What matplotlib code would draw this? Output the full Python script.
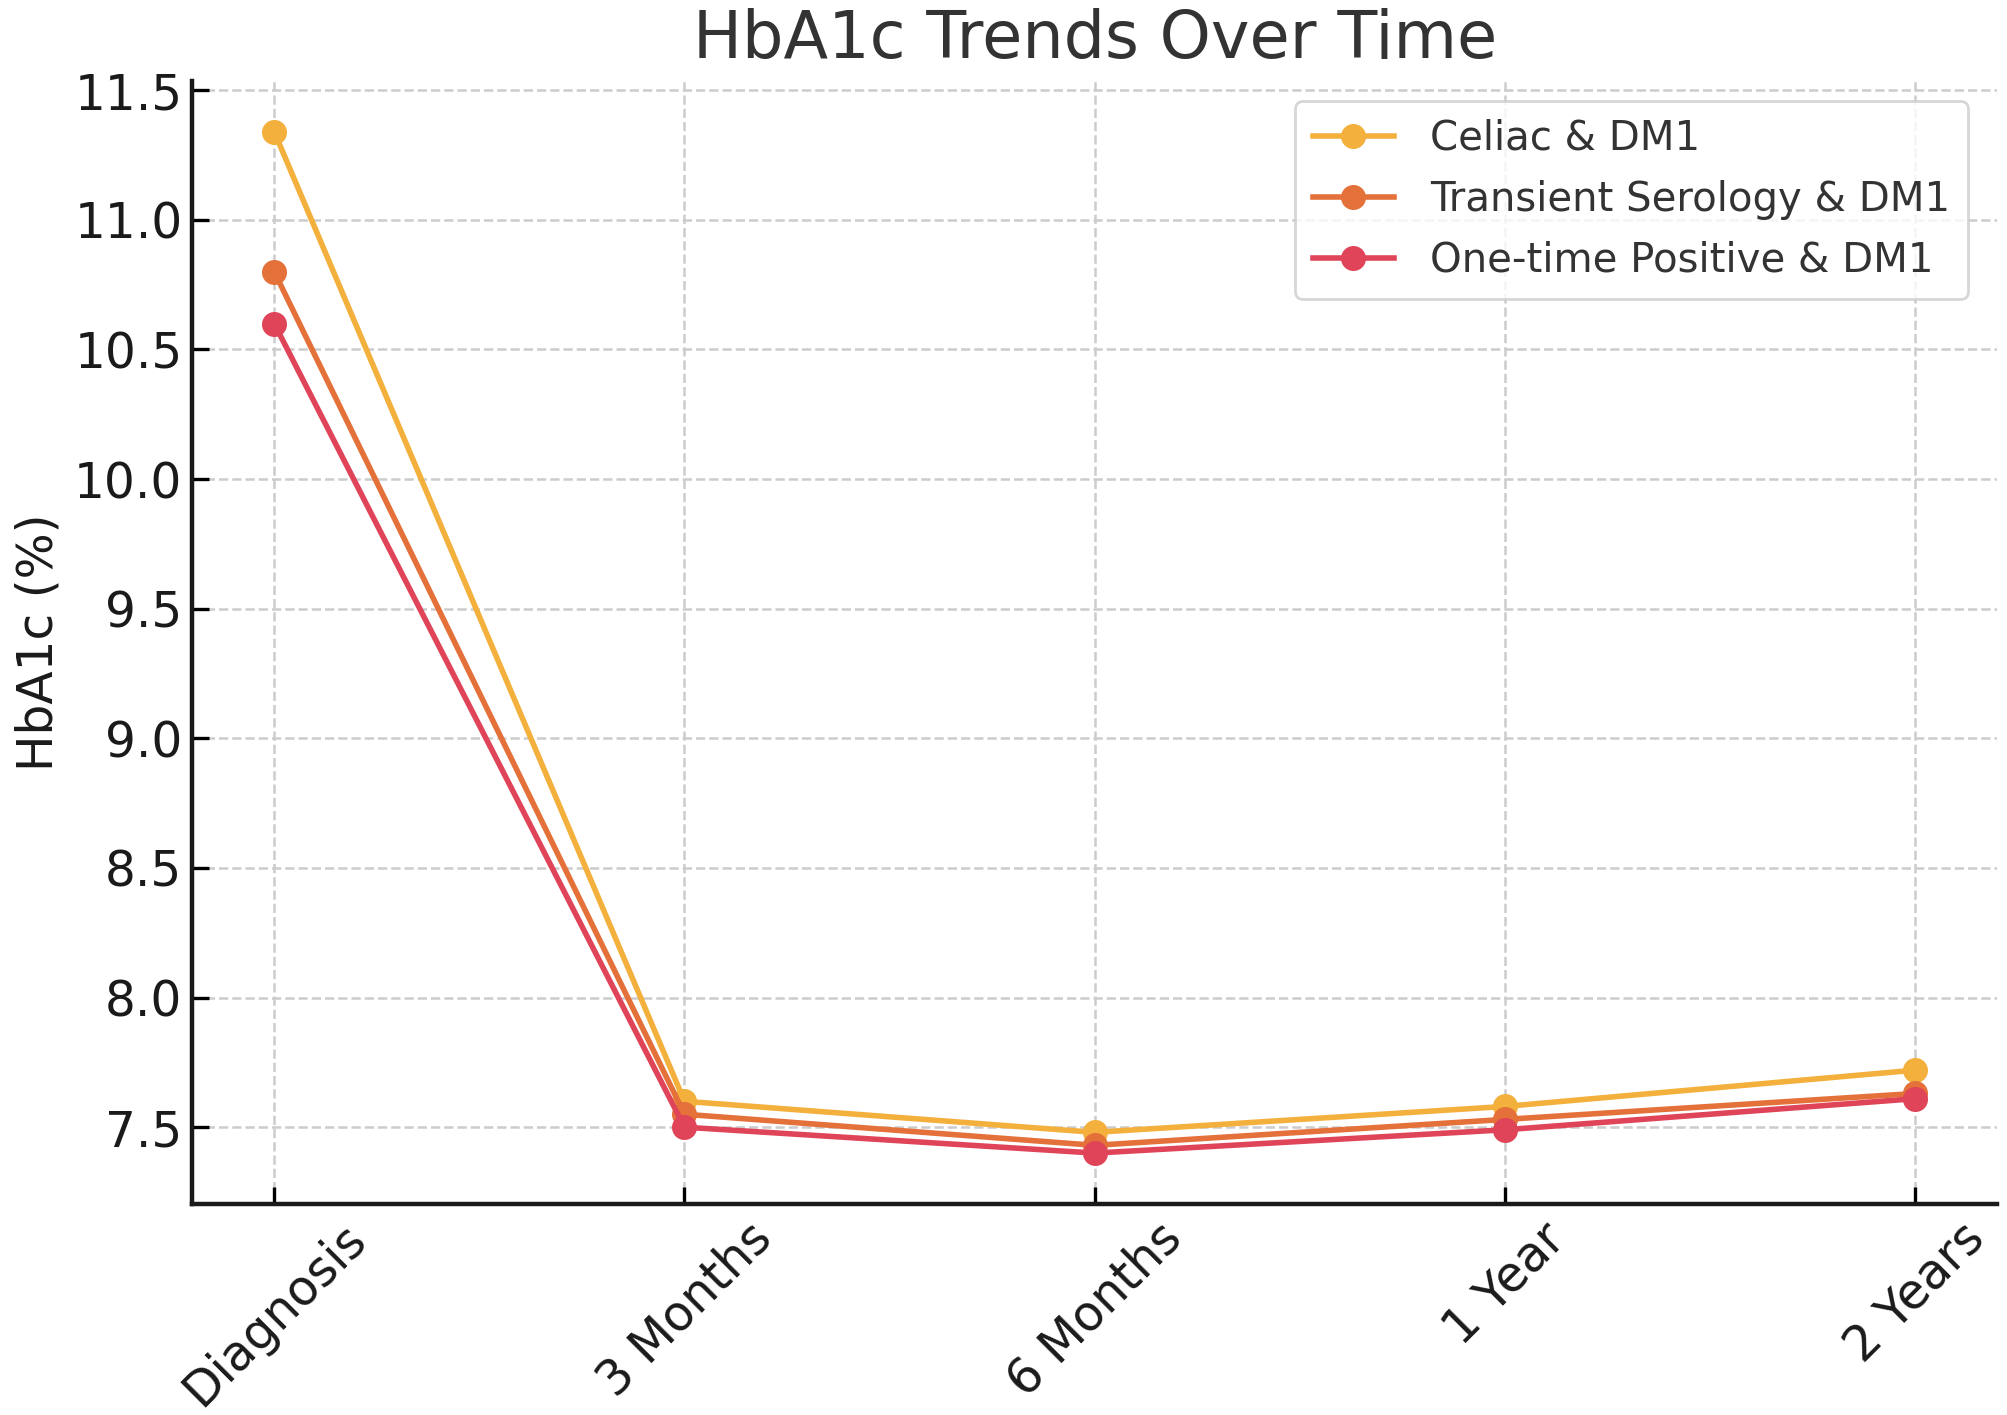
import matplotlib
matplotlib.use("Agg")
import matplotlib.pyplot as plt

time_points = ["Diagnosis", "3 Months", "6 Months", "1 Year", "2 Years"]
celiac = [11.34, 7.60, 7.48, 7.58, 7.72]
transient = [10.80, 7.55, 7.43, 7.53, 7.63]
one_time = [10.60, 7.50, 7.40, 7.49, 7.61]
series_names = ["Celiac & DM1", "Transient Serology & DM1", "One-time Positive & DM1"]
colors = ["#F3B03C", "#E4703A", "#E04458"]

plt.rcParams['font.family'] = ['DejaVu Sans']
fig = plt.figure(figsize=(10.04, 7.075), dpi=200)
ax = fig.add_axes([0.0957, 0.149, 0.899, 0.794])

x = list(range(len(time_points)))
for vals, name, c in zip([celiac, transient, one_time], series_names, colors):
    ax.plot(x, vals, marker='o', color=c, lw=2, markersize=8, label=name)

ax.set_xticks(x)
ax.set_xticklabels(time_points, rotation=45, fontsize=17.5, color='#1a1a1a')
ax.tick_params(axis='y', labelsize=17.5, labelcolor='#1a1a1a')
ax.tick_params(direction='in', length=6, width=1.2)
ax.set_ylabel("HbA1c (%)", fontsize=17.5, color='#1a1a1a')
ax.set_title("HbA1c Trends Over Time", fontsize=23.5, pad=8, color='#333333')
ax.grid(True, linestyle='--', color='#cccccc', lw=0.9)
ax.set_axisbelow(True)
for s in ['top', 'right']:
    ax.spines[s].set_visible(False)
for s in ['left', 'bottom']:
    ax.spines[s].set_linewidth(1.6)
    ax.spines[s].set_color('#1a1a1a')
leg = ax.legend(loc='upper right', fontsize=14.5, frameon=True, fancybox=True,
                edgecolor='#cccccc', borderpad=0.45, labelspacing=0.52,
                handletextpad=0.9, bbox_to_anchor=(0.995, 1.0))
for t in leg.get_texts():
    t.set_color('#333333')
fig.savefig("out.png", dpi=200)
